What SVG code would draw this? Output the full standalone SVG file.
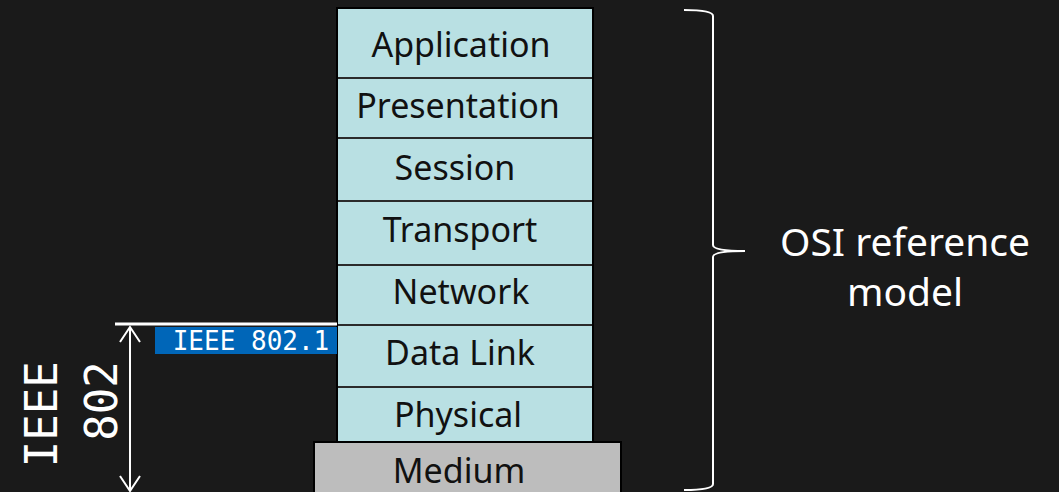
<svg xmlns="http://www.w3.org/2000/svg" width="1059" height="492" viewBox="0 0 1059 492">
  <style>
    .sep { stroke: #2b2b2b; stroke-width: 2; }
    .lbl { font-family: "Noto Sans", "Liberation Sans", sans-serif; font-size: 34px; fill: #111; text-anchor: middle; dominant-baseline: central; }
    .wlbl { font-family: "Noto Sans", "Liberation Sans", sans-serif; fill: #fff; text-anchor: middle; }
    .mono { font-family: "DejaVu Sans Mono", "Liberation Mono", monospace; fill: #fff; }
    .wline { stroke: #fff; fill: none; }
  </style>
  <rect width="1059" height="492" fill="#1a1a1a"/>

  <!-- OSI layer stack -->
  <g id="stack">
    <rect x="337" y="8" width="256" height="434" fill="#b9e0e3" stroke="#000" stroke-width="2"/>
  </g>
  <g id="application"><text class="lbl" x="461" y="44">Application</text></g>
  <g id="presentation"><line class="sep" x1="338" y1="78" x2="592" y2="78"/><text class="lbl" x="458" y="105">Presentation</text></g>
  <g id="session"><line class="sep" x1="338" y1="138" x2="592" y2="138"/><text class="lbl" x="455" y="167">Session</text></g>
  <g id="transport"><line class="sep" x1="338" y1="201" x2="592" y2="201"/><text class="lbl" x="460" y="229">Transport</text></g>
  <g id="network"><line class="sep" x1="338" y1="265" x2="592" y2="265"/><text class="lbl" x="461" y="291">Network</text></g>
  <g id="datalink"><line class="sep" x1="338" y1="325" x2="592" y2="325"/><text class="lbl" x="460" y="352">Data Link</text></g>
  <g id="physical"><line class="sep" x1="338" y1="387" x2="592" y2="387"/><text class="lbl" x="458" y="414">Physical</text></g>
  <g id="medium">
    <rect x="314" y="442" width="307" height="60" fill="#bdbdbd" stroke="#000" stroke-width="2"/>
    <text class="lbl" x="459" y="470">Medium</text>
  </g>

  <!-- IEEE 802.1 label -->
  <g id="ieee8021">
    <rect x="155" y="327" width="182" height="27" fill="#0066b8"/>
    <text class="mono" x="251" y="350" font-size="26" text-anchor="middle">IEEE 802.1</text>
  </g>

  <!-- IEEE 802 span -->
  <g id="ieee802">
    <text class="mono" font-size="44" text-anchor="middle" transform="translate(57 401) rotate(-90)">
      <tspan x="0" y="0">IEEE</tspan>
      <tspan x="0" y="60">802</tspan>
    </text>
  </g>

  <g id="connectors">
    <line class="wline" x1="115" y1="324" x2="337" y2="324" stroke-width="3"/>
    <line class="wline" x1="130" y1="327" x2="130" y2="491" stroke-width="2"/>
    <path class="wline" stroke-width="2" d="M120 342 L130 327 L140 342"/>
    <path class="wline" stroke-width="2" d="M120 476 L130 491 L140 476"/>
    <path class="wline" stroke-width="2" d="M684 10 Q713 10 713 16 L713 245 Q713 251 745 251 Q713 251 713 257 L713 484 Q713 490 684 490"/>
  </g>

  <g id="osi-label">
    <text class="wlbl" font-size="39" x="905" y="256">OSI reference</text>
    <text class="wlbl" font-size="39" x="905" y="306">model</text>
  </g>
</svg>
